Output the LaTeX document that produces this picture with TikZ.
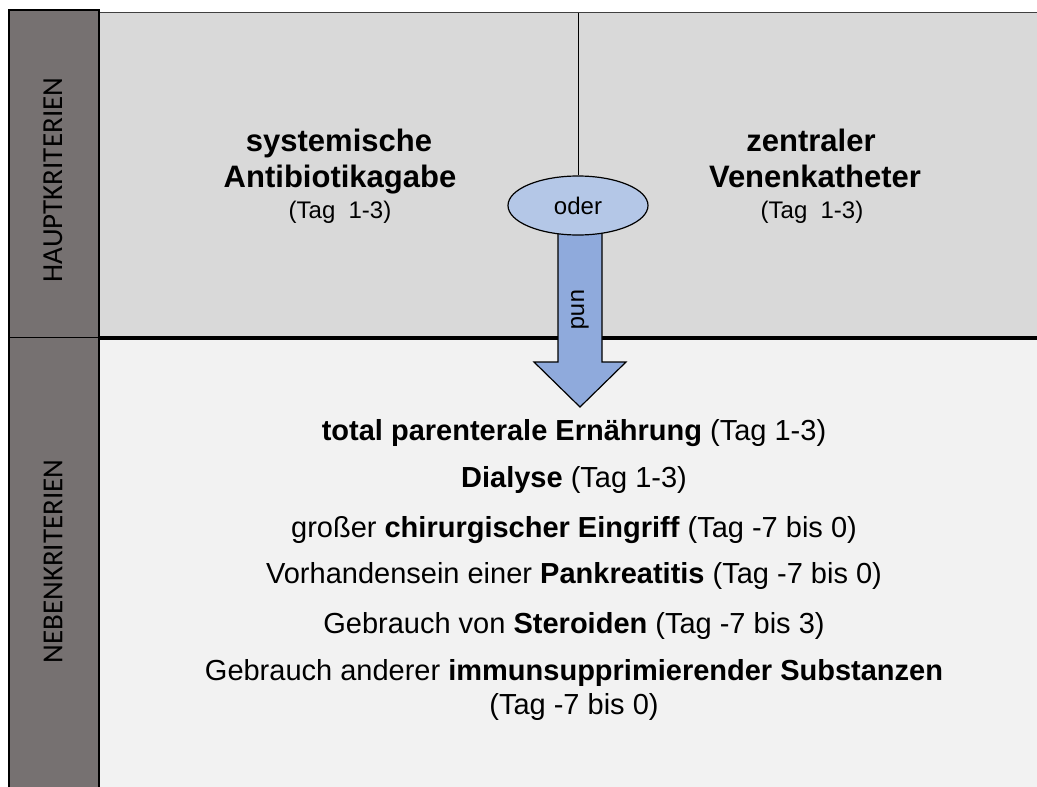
\documentclass[tikz,border=0pt]{standalone}
\usepackage{fontspec}
\setmainfont{Liberation Sans}
\newfontfamily\sidefont{Carlito}
\usetikzlibrary{shapes.geometric}

\definecolor{sidegray}{HTML}{767171}
\definecolor{toppanel}{HTML}{D9D9D9}
\definecolor{lowpanel}{HTML}{F2F2F2}
\definecolor{ovalblue}{HTML}{B4C7E7}
\definecolor{arrowblue}{HTML}{8FAADC}

\tikzset{
  sidelabel/.style={rotate=90, inner sep=0pt, font=\sidefont\fontsize{29}{33}\selectfont},
  headline/.style={anchor=base, inner sep=0pt, font=\fontsize{31}{35}\selectfont\bfseries},
  tagline/.style={anchor=base, inner sep=0pt, font=\fontsize{24}{28}\selectfont},
  critline/.style={anchor=base, inner sep=0pt, font=\fontsize{29}{33}\selectfont},
  ovalbox/.style={ellipse, draw=black, line width=1.2pt, fill=ovalblue,
    minimum width=140pt, minimum height=59pt, inner sep=0pt,
    font=\fontsize{24}{28}\selectfont},
  blockarrow/.style={draw=black, line width=1.2pt, fill=arrowblue, line join=miter}
}

\begin{document}
\begin{tikzpicture}[x=1pt, y=-1pt]
\useasboundingbox (0,0) rectangle (1037,787);
\fill[white] (0,0) rectangle (1037,787);

% panels
\fill[toppanel] (99,12) rectangle (1037,338);
\fill[lowpanel] (99,338) rectangle (1037,787);
\draw[line width=1.5pt, black!75] (99,12.5) -- (1037,12.5);

% side column
\fill[sidegray] (9,10) rectangle (99,792);
\draw[line width=1.6pt] (9,792) -- (9,10) -- (99,10) -- (99,792);
\draw[line width=1pt] (9,337.5) -- (99,337.5);
\node[sidelabel] (haupt) at (53,180) {HAUPTKRITERIEN};
\node[sidelabel] (neben) at (53,561.5) {NEBENKRITERIEN};

% boundary between the two criteria groups
\draw[line width=4pt] (99,338) -- (1037,338);

% "und" block arrow
\filldraw[blockarrow] (558,226) -- (602,226) -- (602,362) -- (626,362)
  -- (580,407) -- (534,362) -- (558,362) -- cycle;
\node[rotate=-90, inner sep=0pt, font=\fontsize{24}{28}\selectfont] (und) at (580,310) {und};

% "oder" junction
\coordinate (topmid) at (578.5,13);
\node[ovalbox] (oder) at (578,205.5) {oder};
\draw[line width=1.2pt] (topmid) -- (topmid |- oder.north);

% main criteria
\node[headline] (sys1) at (339,151.7) {systemische};
\node[headline] (sys2) at (340,187) {Antibiotikagabe};
\node[tagline]  (sys3) at (340,218) {(Tag\ \ 1-3)};
\node[headline] (zvk1) at (811,151.7) {zentraler};
\node[headline] (zvk2) at (815,187) {Venenkatheter};
\node[tagline]  (zvk3) at (812,218) {(Tag\ \ 1-3)};

% minor criteria
\node[critline] (c1) at (574,440) {\textbf{total parenterale Ernährung} (Tag 1-3)};
\node[critline] (c2) at (574,487) {\textbf{Dialyse} (Tag 1-3)};
\node[critline] (c3) at (574,537) {großer \textbf{chirurgischer Eingriff} (Tag -7 bis 0)};
\node[critline] (c4) at (574,583) {Vorhandensein einer \textbf{Pankreatitis} (Tag -7 bis 0)};
\node[critline] (c5) at (574,633) {Gebrauch von \textbf{Steroiden} (Tag -7 bis 3)};
\node[critline] (c6) at (574,680) {Gebrauch anderer \textbf{immunsupprimierender Substanzen}};
\node[critline] (c7) at (574,714) {(Tag -7 bis 0)};
\end{tikzpicture}
\end{document}
